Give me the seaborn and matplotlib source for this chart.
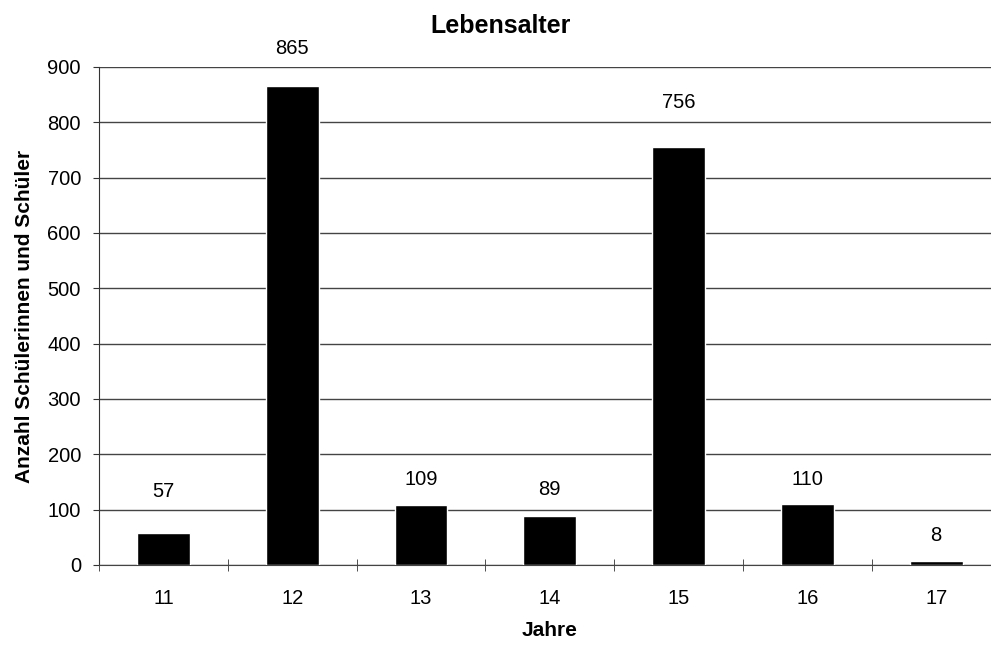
import matplotlib
matplotlib.use("Agg")
import matplotlib.pyplot as plt
import seaborn as sns
import pandas as pd

# Lebensalter der Schülerinnen und Schüler
jahre = ["11", "12", "13", "14", "15", "16", "17"]
anzahl = [57, 865, 109, 89, 756, 110, 8]
# where the value labels sit (data units), as in the original
label_y = [132, 934, 155, 137, 835, 155, 54]

df = pd.DataFrame({"Jahre": jahre, "Anzahl": anzahl})

sns.set_style("white")
plt.rcParams["font.family"] = ["Liberation Sans", "DejaVu Sans"]
plt.rcParams["text.color"] = "black"
plt.rcParams["axes.labelcolor"] = "black"
plt.rcParams["xtick.color"] = "black"
plt.rcParams["ytick.color"] = "black"

fig = plt.figure(figsize=(9.91, 6.46), dpi=100)
ax = fig.add_axes([0.0999, 0.1254, 0.9098, 0.7709])

sns.barplot(df, x="Jahre", y="Anzahl", color="black", width=0.41,
            saturation=1, ax=ax, zorder=3)

ax.set_ylim(0, 900)
ax.set_xlim(-0.5, 6.5)
ax.set_yticks(range(0, 901, 100))
ax.yaxis.grid(True, color="#444444", lw=1)
ax.set_axisbelow(True)

for s in ["top", "right"]:
    ax.spines[s].set_visible(False)
ax.spines["left"].set_color("#333333")
ax.spines["bottom"].set_color("#444444")

ax.tick_params(axis="y", left=True, length=4, color="#333333", labelsize=14.5, pad=9)
ax.set_xticks(range(len(jahre)))
ax.set_xticklabels(jahre)
ax.tick_params(axis="x", bottom=False, labelsize=14.5, pad=14)
ax.set_xticks([i - 0.5 for i in range(len(jahre) + 1)], minor=True)
ax.tick_params(axis="x", which="minor", bottom=True, direction="inout",
               length=9, color="#333333")

for i, (v, ly) in enumerate(zip(anzahl, label_y)):
    ax.text(i, ly, str(v), ha="center", va="center", fontsize=14.5, clip_on=False)

fig.text(0.505, 1 - 26 / 646, "Lebensalter", ha="center", va="center",
         fontsize=18, fontweight="bold")
ax.set_xlabel("Jahre", fontsize=15, fontweight="bold", labelpad=9)
ax.set_ylabel("Anzahl Schülerinnen und Schüler", fontsize=15, fontweight="bold", labelpad=10)

fig.savefig("out.png", dpi=100)
